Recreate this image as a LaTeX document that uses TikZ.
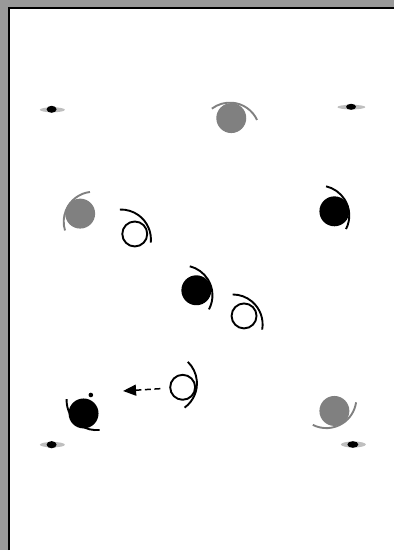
\documentclass[tikz,border=0pt]{standalone}
\usetikzlibrary{arrows.meta}
\begin{document}
\begin{tikzpicture}[x=1pt, y=1pt]
    \tikzset{
        head/.style={circle, inner sep=0pt, minimum size=30pt},
        open/.style={circle, draw, line width=1.9pt, inner sep=0pt, minimum size=25pt},
        arm/.style={line width=1.9pt},
        spot/.style={gray!50},
        pass/.style={dash pattern=on 6pt off 3.5pt, line width=1.5pt, -{Triangle[length=13pt, width=11pt]}, shorten <=9pt}
    }

    % frame
    \fill[black!40] (0,0) rectangle (395,551);
    \fill[white] (9,0) rectangle (395,543);
    \draw[line width=2pt] (9,0) -- (9,543) -- (395,543);

    % corner spots
    \fill[spot] (52.5,441) ellipse (12.5 and 2.5);
    \fill (51.7,441.5) ellipse (5 and 3.5);
    \fill[spot] (352,443.7) ellipse (14 and 2.3);
    \fill (351.7,444) ellipse (5 and 3);
    \fill[spot] (52.5,105.5) ellipse (12.5 and 2.7);
    \fill (51.7,105.5) ellipse (5 and 3.6);
    \fill[spot] (354,105.7) ellipse (12.5 and 3);
    \fill (353.5,105.7) ellipse (5.5 and 3.3);

    % grey players
    \node[head, fill=gray] (g1) at (231.7,432.7) {};
    \draw[arm, gray] (g1.center) ++(-1.4,-14.5) ++(25:30) arc[start angle=25, end angle=127, radius=30];
    \node[head, fill=gray] (g2) at (80.3,337) {};
    \draw[arm, gray] (g2.center) ++(13.5,-8.1) ++(97:30) arc[start angle=97, end angle=197, radius=30];
    \node[head, fill=gray] (g3) at (335,139.3) {};
    \draw[arm, gray] (g3.center) ++(-8,12.8) ++(243:30) arc[start angle=243, end angle=352, radius=30];

    % black players
    \node[head, fill=black] (b1) at (335,339.3) {};
    \draw[arm] (b1.center) ++(-15.1,-4.2) ++(-27:30) arc[start angle=-27, end angle=77, radius=30];
    \node[head, fill=black] (b2) at (196.7,260.2) {};
    \draw[arm] (b2.center) ++(-13.85,-5.05) ++(-28:30) arc[start angle=-28, end angle=76, radius=30];
    \node[head, fill=black] (b3) at (83.7,136.8) {};
    \draw[arm] (b3.center) ++(13,13.3) ++(178:30) arc[start angle=178, end angle=276, radius=30];
    \fill (91,155.3) circle (2.3);

    % open players
    \node[open] (w1) at (135,316.6) {};
    \draw[arm] (w1.center) ++(-13.8,-5.5) ++(-6:30) arc[start angle=-6, end angle=92, radius=30];
    \node[open] (w2) at (244.5,234.5) {};
    \draw[arm] (w2.center) ++(-11.4,-8.5) ++(-10:30) arc[start angle=-10, end angle=90, radius=30];
    \node[open] (w3) at (183,163) {};
    \draw[arm] (w3.center) ++(-15.7,3.9) ++(-54:30) arc[start angle=-54, end angle=46, radius=30];

    % pass
    \coordinate (tip) at (123.3,159.3);
    \draw[pass] (w3) -- (tip);
\end{tikzpicture}
\end{document}
